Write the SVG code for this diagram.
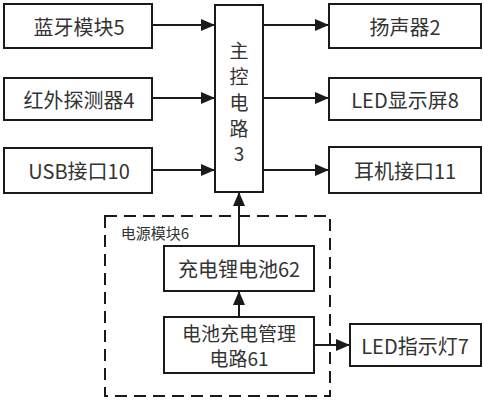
<svg xmlns="http://www.w3.org/2000/svg" width="484" height="400" viewBox="0 0 484 400">
<defs>
<style>
.box{fill:#fff;stroke:#1a1a1a;stroke-width:2}
.t{font-family:"Noto Sans CJK SC","Liberation Sans",sans-serif;font-size:20px;fill:#333;text-anchor:middle;dominant-baseline:central}
.s{font-size:19px}
.ln{stroke:#1a1a1a;stroke-width:2;fill:none}
</style>
<marker id="ah" viewBox="0 0 14 12" refX="14" refY="6" markerWidth="14" markerHeight="12" markerUnits="userSpaceOnUse" orient="auto">
<path d="M0,0 L14,6 L0,12 Z" fill="#1a1a1a"/>
</marker>
</defs>
<rect width="484" height="400" fill="#fff"/>
<g id="power-module">
<rect x="105" y="216" width="225" height="180" fill="none" stroke="#1a1a1a" stroke-width="2" stroke-dasharray="12,7"/>
<text x="155" y="232" class="t" style="font-size:15px">电源模块6</text>
</g>
<g id="connectors">
<line class="ln" x1="152" y1="25" x2="215" y2="25" marker-end="url(#ah)"/>
<line class="ln" x1="152" y1="98" x2="215" y2="98" marker-end="url(#ah)"/>
<line class="ln" x1="152" y1="170" x2="215" y2="170" marker-end="url(#ah)"/>
<line class="ln" x1="263" y1="25" x2="329" y2="25" marker-end="url(#ah)"/>
<line class="ln" x1="263" y1="98" x2="329" y2="98" marker-end="url(#ah)"/>
<line class="ln" x1="263" y1="170" x2="329" y2="170" marker-end="url(#ah)"/>
<line class="ln" x1="239" y1="246" x2="239" y2="192" marker-end="url(#ah)"/>
<line class="ln" x1="239" y1="317" x2="239" y2="291" marker-end="url(#ah)"/>
<line class="ln" x1="314" y1="345" x2="350" y2="345" marker-end="url(#ah)"/>
</g>
<g id="bluetooth"><rect class="box" x="4" y="4" width="148" height="44"/><text class="t" x="79" y="26">蓝牙模块5</text></g>
<g id="infrared"><rect class="box" x="4" y="78" width="148" height="42"/><text class="t" x="79" y="99">红外探测器4</text></g>
<g id="usb"><rect class="box" x="4" y="148" width="148" height="45"/><text class="t" x="79" y="170">USB接口10</text></g>
<g id="main"><rect class="box" x="215" y="5" width="48" height="187"/>
<text class="t s" x="239" y="49">主</text><text class="t s" x="239" y="75">控</text><text class="t s" x="239" y="101">电</text><text class="t s" x="239" y="127">路</text><text class="t s" x="239" y="152">3</text></g>
<g id="speaker"><rect class="box" x="329" y="4" width="152" height="44"/><text class="t" x="405" y="26">扬声器2</text></g>
<g id="led-screen"><rect class="box" x="329" y="78" width="152" height="42"/><text class="t" x="405" y="99">LED显示屏8</text></g>
<g id="earphone"><rect class="box" x="329" y="147" width="152" height="46"/><text class="t" x="405" y="170">耳机接口11</text></g>
<g id="battery"><rect class="box" x="164" y="246" width="150" height="45"/><text class="t" x="239" y="268">充电锂电池62</text></g>
<g id="charge-mgmt"><rect class="box" x="164" y="317" width="150" height="56"/><text class="t s" x="239" y="332">电池充电管理</text><text class="t s" x="239" y="357">电路61</text></g>
<g id="led-indicator"><rect class="box" x="350" y="324" width="131" height="42"/><text class="t" x="415" y="345">LED指示灯7</text></g>
</svg>
